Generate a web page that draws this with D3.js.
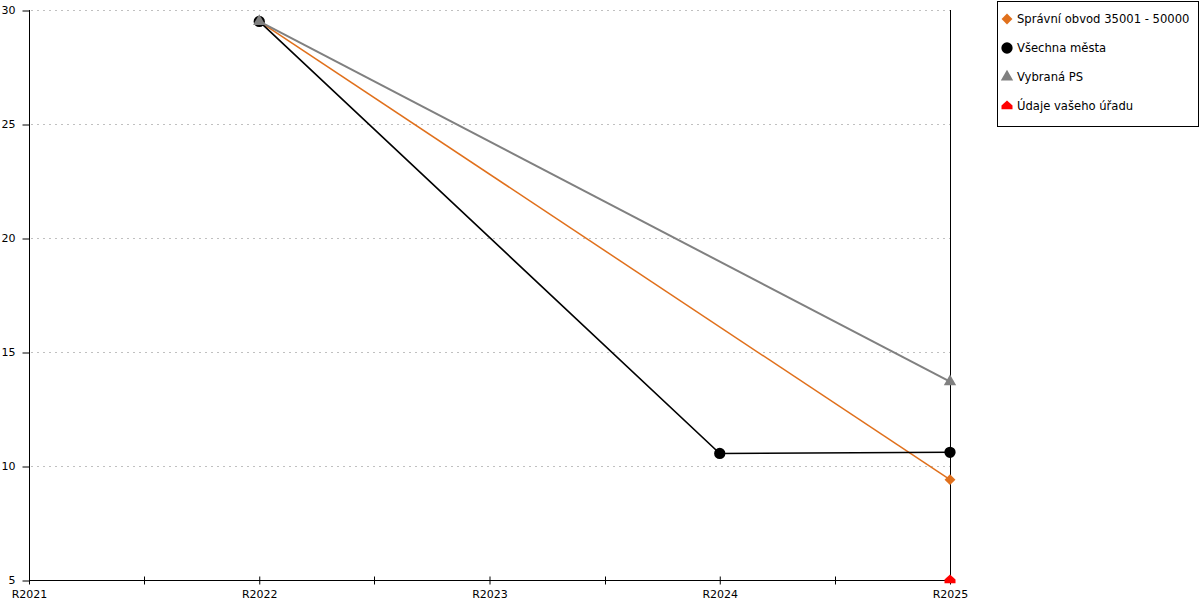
<!DOCTYPE html>
<html><head><meta charset="utf-8">
<script src="https://cdn.jsdelivr.net/npm/d3@7"></script>
<style>body{margin:0;background:#fff;} svg{display:block;font-family:"DejaVu Sans",Verdana,sans-serif;}</style>
</head><body><svg id="c" width="1200" height="600"></svg>
<script>
const categories = ["R2021","R2022","R2023","R2024","R2025"];
const seriesNames = ["Správní obvod 35001 - 50000","Všechna města","Vybraná PS","Údaje vašeho úřadu"];
const seriesColors = ["#E0701C","#000000","#808080","#FF0000"];
const seriesShapes = ["diamond","circle","triangle","house"];
const obvodValues = [null, 29.5, null, null, 9.4];
const mestaValues = [null, 29.5, null, 10.55, 10.6];
const psValues = [null, 29.5, null, null, 13.7];
const uradValues = [null, null, null, null, 5];
const yTicks = [5,10,15,20,25,30];
const allValues = [obvodValues, mestaValues, psValues, uradValues];

const svg = d3.select("#c");
const x = d3.scalePoint().domain(categories).range([29, 950]);
const y = d3.scaleLinear().domain([5, 30]).range([580, 10]);

// grid
svg.append("g").selectAll("line").data(yTicks.filter(t => t > 5)).join("line")
  .attr("x1", 31).attr("x2", 950).attr("y1", d => y(d) + 0.5).attr("y2", d => y(d) + 0.5)
  .attr("stroke", "#c0c0c0").attr("stroke-dasharray", "2,4");

// y axis
const ya = svg.append("g").attr("transform", "translate(29.5,0)")
  .call(d3.axisLeft(y).tickValues(yTicks).tickSize(7).tickPadding(7).tickFormat(d3.format("d")));
ya.select(".domain").attr("stroke","#000").attr("d","M0,10V580");
ya.selectAll(".tick line").attr("transform","translate(0,0.5)");
ya.selectAll("text").attr("font-size", 11).attr("font-family","DejaVu Sans, Verdana, sans-serif").attr("fill","#000");

// x axis
const xa = svg.append("g").attr("transform", "translate(0,580.5)")
  .call(d3.axisBottom(x).tickSizeInner(4).tickSizeOuter(0).tickPadding(6));
xa.selectAll(".tick line").attr("y1", -4).attr("y2", 4);
xa.selectAll("text").attr("font-size", 11).attr("font-family","DejaVu Sans, Verdana, sans-serif").attr("fill","#000");
xa.select(".domain").attr("d", "M29,0H950");
// minor ticks
const step = x.step();
xa.append("g").selectAll("line").data(categories.slice(0, -1)).join("line")
  .attr("x1", d => Math.round(x(d) + step/2) + 0.5).attr("x2", d => Math.round(x(d) + step/2) + 0.5)
  .attr("y1", -4).attr("y2", 4).attr("stroke", "#000");

// right border line
svg.append("line").attr("x1", 950.5).attr("x2", 950.5).attr("y1", 10).attr("y2", 580).attr("stroke","#000");

const symbolFor = (s, size) => {
  if (s === "diamond") return d3.symbol().type(d3.symbolDiamond2).size(size)();
  if (s === "circle") return d3.symbol().type(d3.symbolCircle).size(size)();
  if (s === "triangle") return d3.symbol().type(d3.symbolTriangle2).size(size)();
  const r = Math.sqrt(size)/2 + 0.5;
  return `M${-r},${r*0.6}L${-r},${-r*0.1}L0,${-r}L${r},${-r*0.1}L${r},${r*0.6}Z`;
};
const sizes = {diamond: 75, circle: 100, triangle: 110, house: 100};

const line = d3.line().defined(d => d.v !== null).x(d => x(d.c)).y(d => y(d.v));
const widths = [1.5, 1.6, 2, 1.5];
allValues.forEach((vals, i) => {
  const pts = vals.map((v, j) => ({c: categories[j], v})).filter(d => d.v !== null);
  const g = svg.append("g");
  g.append("path").datum(pts).attr("d", line).attr("fill","none")
    .attr("stroke", seriesColors[i]).attr("stroke-width", widths[i]);
  g.selectAll("path.m").data(pts).join("path").attr("class","m")
    .attr("transform", d => `translate(${x(d.c)},${y(d.v)})`)
    .attr("d", symbolFor(seriesShapes[i], sizes[seriesShapes[i]]))
    .attr("fill", seriesColors[i]);
});

// legend
const lg = svg.append("g");
lg.append("rect").attr("x", 997.5).attr("y", 1.5).attr("width", 201).attr("height", 125)
  .attr("fill","#fff").attr("stroke","#000");
seriesNames.forEach((n, i) => {
  const yy = 19 + i*29;
  lg.append("path").attr("transform", `translate(1007,${yy})`)
    .attr("d", symbolFor(seriesShapes[i], sizes[seriesShapes[i]])).attr("fill", seriesColors[i]);
  lg.append("text").attr("x", 1017).attr("y", yy + 4).attr("font-size", 11.6).attr("fill","#000").text(n);
});
</script></body></html>
